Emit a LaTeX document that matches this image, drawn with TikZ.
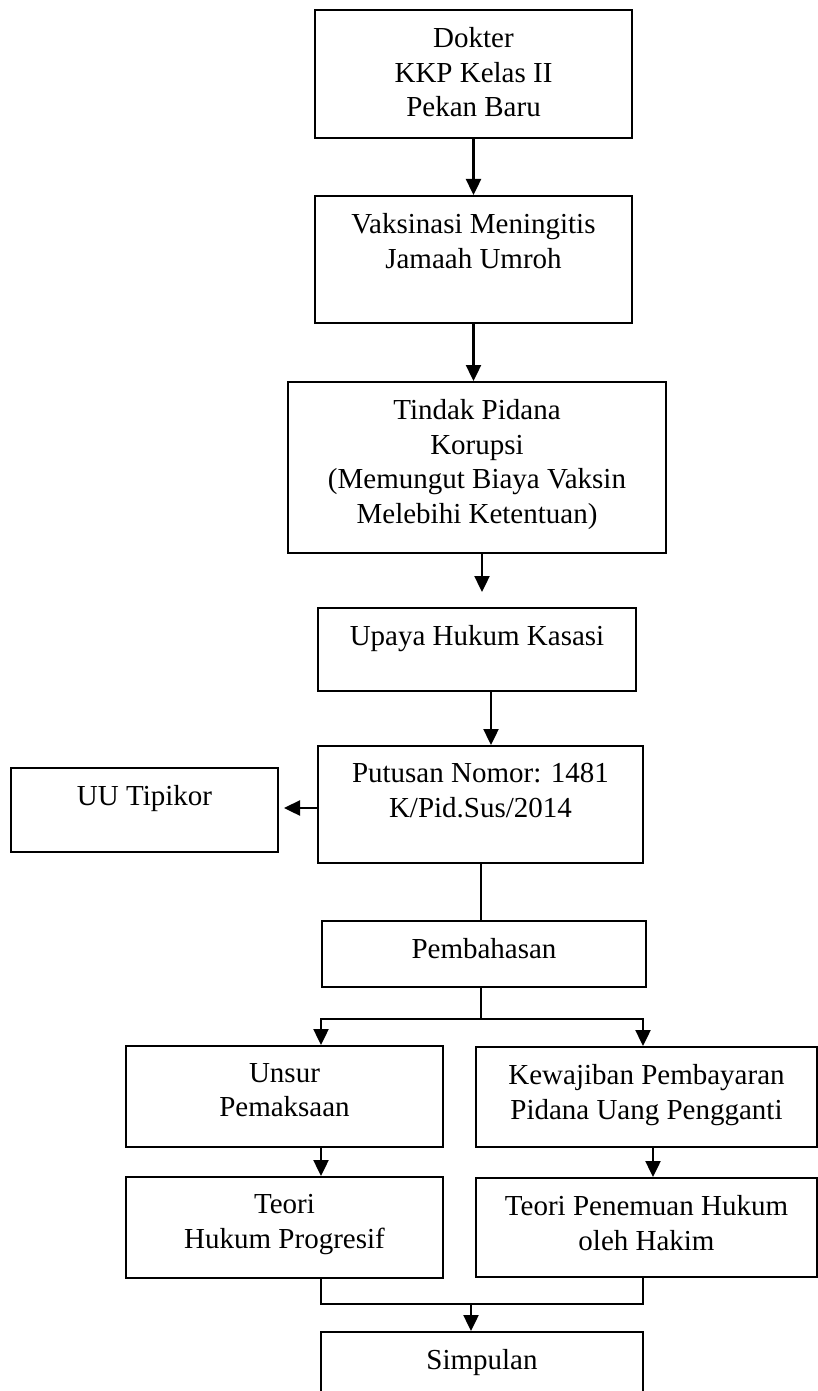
\documentclass[tikz,border=0pt]{standalone}
\usepackage{fontspec}
\setmainfont{Liberation Serif}
\usetikzlibrary{arrows.meta}
\usetikzlibrary{positioning}

\begin{document}
\begin{tikzpicture}[x=0.5pt,y=-0.5pt,
    line/.style={draw=black,line width=1pt},
    arr/.style={draw=black,line width=1.2pt,-{Triangle[width=7.5pt,length=8pt]}}]
    \clip (0,0) rectangle (818,1391);
    \begin{scope}[every node/.style={rectangle,draw,line width=1pt,inner sep=0pt}]
      \node[minimum width=158.5pt,minimum height=64pt] (dok) at (473.5,74) {};
      \node[minimum width=158.5pt,minimum height=63.5pt] (vak) at (473.5,259.5) {};
      \node[minimum width=189pt,minimum height=85.5pt] (tin) at (477,467.5) {};
      \node[minimum width=159pt,minimum height=41.5pt] (upa) at (477,649.5) {};
      \node[minimum width=162.5pt,minimum height=58.5pt] (put) at (480.5,804.5) {};
      \node[minimum width=133.5pt,minimum height=42pt] (uu) at (144.5,810) {};
      \node[minimum width=162pt,minimum height=33pt] (pem) at (484,954) {};
      \node[minimum width=158.5pt,minimum height=50.5pt] (uns) at (284.5,1096.5) {};
      \node[minimum width=170.5pt,minimum height=50pt] (kew) at (646.5,1097) {};
      \node[minimum width=158.5pt,minimum height=50.5pt] (thp) at (284.5,1227.5) {};
      \node[minimum width=170.5pt,minimum height=49.5pt] (tph) at (646.5,1227.5) {};
      \node[minimum width=161pt,minimum height=44pt] (sim) at (482,1376) {};
    \end{scope}
    \begin{scope}[every node/.style={align=center,inner sep=0pt,font=\fontsize{14.5}{17.25}\selectfont}]
      \node[below=9pt of dok.north] (dokt) {Dokter\\KKP Kelas II\\Pekan Baru};
      \node[below=9pt of vak.north] (vakt) {Vaksinasi Meningitis\\Jamaah Umroh};
      \node[below=9pt of tin.north] (tint) {Tindak Pidana\\Korupsi\\(Memungut Biaya Vaksin\\Melebihi Ketentuan)};
      \node[below=9pt of upa.north] (upat) {Upaya Hukum Kasasi};
      \node[below=9pt of put.north] (putt) {Putusan Nomor: 1481\\K/Pid.Sus/2014};
      \node[below=9pt of uu.north] (uut) {UU Tipikor};
      \node[below=9pt of pem.north] (pemt) {Pembahasan};
      \node[below=9pt of uns.north] (unst) {Unsur\\Pemaksaan};
      \node[below=9pt of kew.north] (kewt) {Kewajiban Pembayaran\\Pidana Uang Pengganti};
      \node[below=9pt of thp.north] (thpt) {Teori\\Hukum Progresif};
      \node[below=9pt of tph.north] (tpht) {Teori Penemuan Hukum\\oleh Hakim};
      \node[below=9pt of sim.north] (simt) {Simpulan};
    \end{scope}
    \begin{scope}[every edge/.style={arr}]
      \path (dok.south) edge (vak.north);
      \path (vak.south) edge (vak.south |- tin.north);
      \path ([xshift=2.5pt]tin.south) edge[shorten >=7.5pt] ([xshift=2.5pt]tin.south |- upa.north);
      \path ([xshift=7pt]upa.south) edge ([xshift=7pt]upa.south |- put.north);
      \path ([yshift=-1.75pt]put.west) edge[shorten >=2.5pt] ([yshift=-1.75pt]put.west -| uu.east);
      \path ([xshift=18.25pt]uns.south) edge ([xshift=18.25pt]thp.north);
      \path ([xshift=3.25pt]kew.south) edge ([xshift=3.25pt]kew.south |- tph.north);
    \end{scope}
    \draw[line] (put.south) -- (put.south |- pem.north);
    \draw[line] (put.south |- pem.south) -- ++(0,31) coordinate (split);
    \draw[arr] (split) -| ([xshift=18.25pt]uns.north);
    \draw[arr] (split) -| ([xshift=-1.75pt]kew.north);
    \draw[line] ([xshift=18.25pt]thp.south) -- ++(0,25) coordinate (join) -| ([xshift=-1.75pt]tph.south);
    \draw[arr] ([xshift=-5.5pt]sim.north |- join) -- ([xshift=-5.5pt]sim.north);
\end{tikzpicture}
\end{document}
